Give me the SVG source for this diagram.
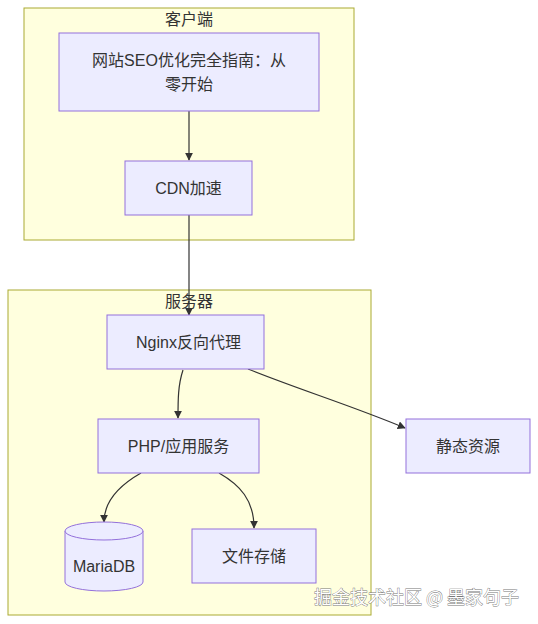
<svg xmlns="http://www.w3.org/2000/svg" width="538" height="624" viewBox="0 0 538 624">
<style>
.cluster{fill:#ffffde;stroke:#aaaa33;stroke-width:1}
.node{fill:#ECECFF;stroke:#9370DB;stroke-width:1}
.lbl{font-family:"Liberation Sans","Noto Sans CJK SC",sans-serif;font-size:16px;fill:#333;text-anchor:middle}
.edge{fill:none;stroke:#333;stroke-width:1.2}
.wm{font-family:"Noto Sans CJK SC",sans-serif;font-size:18px;fill:#fff;stroke:#777;stroke-width:0.8;paint-order:stroke;text-anchor:start}
</style>
<defs>
<marker id="arr" viewBox="0 0 10 10" refX="9" refY="5" markerWidth="8" markerHeight="8" orient="auto" markerUnits="userSpaceOnUse">
<path d="M0,0 L10,5 L0,10 z" fill="#333"/>
</marker>
</defs>
<g id="cluster-client">
<rect class="cluster" x="24" y="8" width="330" height="232"/>
<text class="lbl" x="189" y="25">客户端</text>
</g>
<g id="cluster-server">
<rect class="cluster" x="8" y="290" width="363" height="325"/>
<text class="lbl" x="189" y="307">服务器</text>
</g>
<g id="connectors">
<path class="edge" d="M189,111 L189,160" marker-end="url(#arr)"/>
<path class="edge" d="M189,215 L189,315" marker-end="url(#arr)"/>
<path class="edge" d="M183,370 C178,385 178,400 178,418" marker-end="url(#arr)"/>
<path class="edge" d="M248,369 C300,390 350,405 405,428" marker-end="url(#arr)"/>
<path class="edge" d="M141,473 C120,485 104,500 104,522" marker-end="url(#arr)"/>
<path class="edge" d="M219,473 C240,485 254,500 254,528" marker-end="url(#arr)"/>
</g>
<g id="node-seo">
<rect class="node" x="59" y="33" width="260" height="78"/>
<text class="lbl" x="189" y="66">网站SEO优化完全指南：从</text>
<text class="lbl" x="189" y="90">零开始</text>
</g>
<g id="node-cdn">
<rect class="node" x="125" y="161" width="127" height="54"/>
<text class="lbl" x="188.5" y="194">CDN加速</text>
</g>
<g id="node-nginx">
<rect class="node" x="107" y="315" width="157" height="54"/>
<text class="lbl" x="188.5" y="348">Nginx反向代理</text>
</g>
<g id="node-php">
<rect class="node" x="98" y="419" width="161" height="54"/>
<text class="lbl" x="178.5" y="452">PHP/应用服务</text>
</g>
<g id="node-static">
<rect class="node" x="406" y="419" width="124" height="54"/>
<text class="lbl" x="468" y="452">静态资源</text>
</g>
<g id="node-mariadb">
<path class="node" d="M65,531 A39,9 0 0 1 143,531 L143,582 A39,9 0 0 1 65,582 Z"/>
<path class="node" d="M65,531 A39,9 0 0 0 143,531" fill="none"/>
<text class="lbl" x="104" y="572">MariaDB</text>
</g>
<g id="node-file">
<rect class="node" x="192" y="529" width="124" height="54"/>
<text class="lbl" x="254" y="562">文件存储</text>
</g>
<text class="wm" x="314" y="604">掘金技术社区 @ 墨家句子</text>
</svg>
